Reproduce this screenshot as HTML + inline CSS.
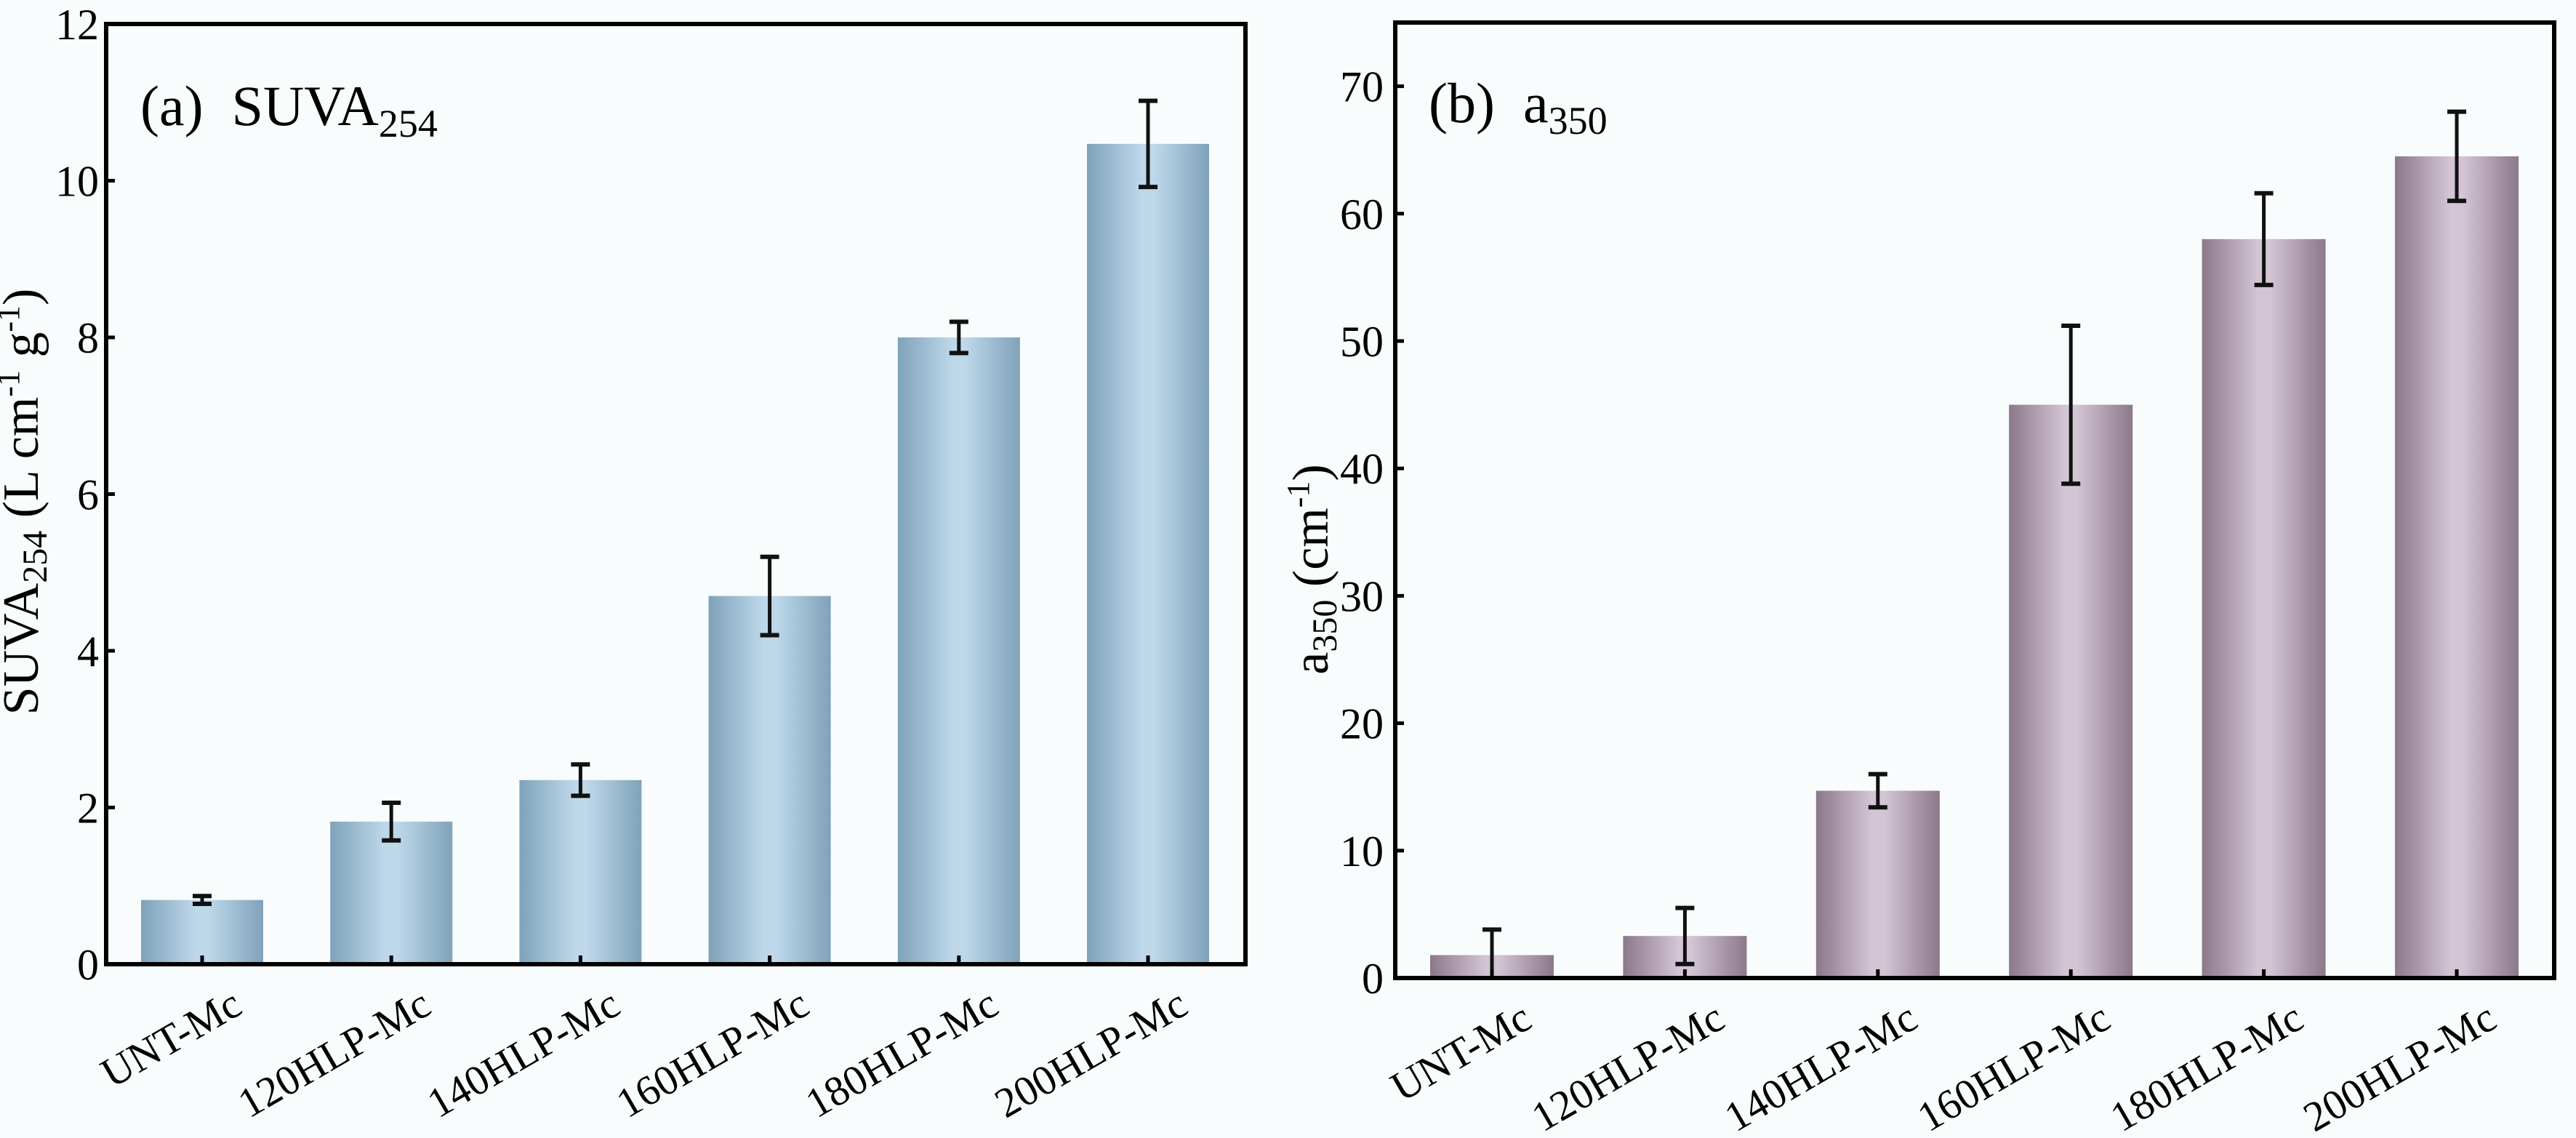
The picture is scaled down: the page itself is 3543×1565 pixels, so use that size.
<!DOCTYPE html>
<html><head><meta charset="utf-8"><style>
html,body{margin:0;padding:0;background:#f8fcfd;}
svg{display:block;font-family:"Liberation Serif",serif;}
</style></head><body>
<svg id="chart" width="3543" height="1565" viewBox="0 0 3543 1565" xmlns="http://www.w3.org/2000/svg">
<defs>
<linearGradient id="gBlue" x1="0" x2="1" y1="0" y2="0">
<stop offset="0" stop-color="#7fa2ba"/><stop offset="0.45" stop-color="#bed8ea"/><stop offset="0.55" stop-color="#bed8ea"/><stop offset="1" stop-color="#80a2ba"/>
</linearGradient>
<linearGradient id="gMauve" x1="0" x2="1" y1="0" y2="0">
<stop offset="0" stop-color="#8c788b"/><stop offset="0.45" stop-color="#d3c5d4"/><stop offset="0.55" stop-color="#d3c5d4"/><stop offset="1" stop-color="#8c788b"/>
</linearGradient>
</defs>
<rect x="0" y="0" width="3543" height="1565" fill="#f8fcfd"/>
<g id="panelA"></g>
<g id="panelB"></g>
</svg>
<script>
const categories = ["UNT-Mc","120HLP-Mc","140HLP-Mc","160HLP-Mc","180HLP-Mc","200HLP-Mc"];
const suvaValues = [0.82, 1.82, 2.35, 4.7, 8.0, 10.47];
const suvaErrors = [0.05, 0.24, 0.2, 0.5, 0.2, 0.55];
const suvaTicks = [0, 2, 4, 6, 8, 10, 12];
const a350Values = [1.8, 3.3, 14.7, 45, 58, 64.5];
const a350Errors = [2.0, 2.2, 1.3, 6.2, 3.6, 3.5];
const a350Ticks = [0, 10, 20, 30, 40, 50, 60, 70];

const NS = "http://www.w3.org/2000/svg";
function mk(tag, attrs, parent){
  const e = document.createElementNS(NS, tag);
  for (const k in attrs) e.setAttribute(k, attrs[k]);
  parent.appendChild(e);
  return e;
}

function drawPanel(g, cfg){
  const yScale = v => cfg.y0 - (v - 0) / cfg.yMax * (cfg.y0 - cfg.yTop);
  const xScale = i => cfg.firstCenter + i * cfg.spacing;
  cfg.values.forEach((v, i) => {
    const cx = xScale(i);
    const r = mk("rect", {x: cx - cfg.barW/2, y: yScale(v), width: cfg.barW, height: cfg.y0 - yScale(v), fill: cfg.fill}, g);
    
    
  });
  cfg.values.forEach((v, i) => {
    const cx = xScale(i);
    const hi = yScale(v + cfg.errors[i]);
    const lo = yScale(Math.max(0, v - cfg.errors[i]));
    const eg = mk("g", {stroke: "#111", "stroke-width": 5, fill: "none"}, g);
    
    
    mk("line", {x1: cx, x2: cx, y1: hi, y2: lo}, eg);
    mk("line", {x1: cx - 13, x2: cx + 13, y1: hi, y2: hi, "stroke-width": 6}, eg);
    mk("line", {x1: cx - 13, x2: cx + 13, y1: lo, y2: lo, "stroke-width": 6}, eg);
  });
  const fr = mk("rect", {x: cfg.xL, y: cfg.yTop, width: cfg.xR - cfg.xL, height: cfg.y0 - cfg.yTop, fill: "none", stroke: "#000", "stroke-width": 6}, g);
  
  
  cfg.ticks.forEach(t => {
    const y = yScale(t);
    const tl = mk("line", {x1: cfg.xL, x2: cfg.xL + 12, y1: y, y2: y, stroke: "#000", "stroke-width": 5}, g);
    
    
    const tx = mk("text", {x: cfg.xL - cfg.labelGap, y: y + 21, "text-anchor": "end", "font-size": 60, fill: "#000"}, g);
    tx.textContent = t;
    
    
  });
  categories.forEach((c, i) => {
    const cx = xScale(i);
    const tl = mk("line", {x1: cx, x2: cx, y1: cfg.y0, y2: cfg.y0 - 12, stroke: "#000", "stroke-width": 5}, g);
    
    
    const lx = cx + 58, ly = cfg.y0 + 66;
    const tx = mk("text", {x: lx, y: ly, "text-anchor": "end", "font-size": 58, fill: "#000", transform: "rotate(-30 " + lx + " " + ly + ")"}, g);
    tx.textContent = c;
    
    
  });
}

const gA = document.getElementById("panelA");
drawPanel(gA, {values: suvaValues, errors: suvaErrors, ticks: suvaTicks, yMax: 12,
  xL: 146, xR: 1713, yTop: 33, y0: 1326, firstCenter: 278, spacing: 260.2, barW: 168, fill: "url(#gBlue)", labelGap: 10});
const gB = document.getElementById("panelB");
drawPanel(gB, {values: a350Values, errors: a350Errors, ticks: a350Ticks, yMax: 75,
  xL: 1919, xR: 3513, yTop: 31, y0: 1345, firstCenter: 2052, spacing: 265.4, barW: 170, fill: "url(#gMauve)", labelGap: 16});
</script>
<script>
(function(){
  const svg = document.getElementById("chart");
  const NS = "http://www.w3.org/2000/svg";
  function txt(html, attrs, name){
    const t = document.createElementNS(NS, "text");
    for (const k in attrs) t.setAttribute(k, attrs[k]);
    t.innerHTML = html;
    
    
    svg.appendChild(t);
  }
  txt('(a)&#160;&#160;SUVA<tspan font-size="54" dy="16">254</tspan>', {x: 193, y: 172, "font-size": 78, fill: "#000"}, 'panel-a-label');
  txt('(b)&#160;&#160;a<tspan font-size="54" dy="16">350</tspan>', {x: 1965, y: 168, "font-size": 78, fill: "#000"}, 'panel-b-label');
  txt('SUVA<tspan font-size="48" dy="12">254</tspan><tspan dy="-12"> (L cm</tspan><tspan font-size="44" dy="-26">-1</tspan><tspan dy="26"> g</tspan><tspan font-size="44" dy="-26">-1</tspan><tspan dy="26">)</tspan>',
      {x: 0, y: 0, "font-size": 70, "text-anchor": "middle", fill: "#000", transform: "translate(52 690) rotate(-90)"}, 'y-axis-title-suva254');
  txt('a<tspan font-size="48" dy="12">350</tspan><tspan dy="-12"> (cm</tspan><tspan font-size="44" dy="-26">-1</tspan><tspan dy="26">)</tspan>',
      {x: 0, y: 0, "font-size": 70, "text-anchor": "middle", fill: "#000", transform: "translate(1826 783) rotate(-90)"}, 'y-axis-title-a350');
})();
</script>
</body></html>
